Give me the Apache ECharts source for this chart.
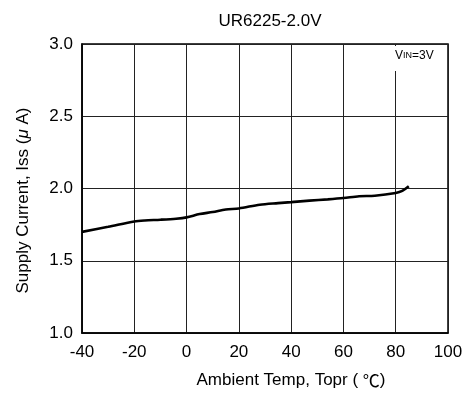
<!DOCTYPE html>
<html><head><meta charset="utf-8">
<script src="https://cdn.jsdelivr.net/npm/echarts@6/dist/echarts.min.js"></script>
<style>html,body{margin:0;padding:0;background:#fff}#c{width:467px;height:396px}</style>
</head><body><div id="c"></div>
<script>
var titleText = 'UR6225-2.0V';
var xName = 'Ambient Temp, Topr ( {c|\u2103})';
var yName = 'Supply Current, Iss ({m|\u03BC} A)';
var temps = [-40, -30, -20, -16, -10, -4, 0, 5, 10, 15, 20, 28, 35, 40, 47, 54, 60, 66, 72, 80, 82.5, 85];
var iss = [1.70, 1.735, 1.772, 1.779, 1.784, 1.791, 1.800, 1.823, 1.837, 1.855, 1.862, 1.888, 1.899, 1.906, 1.916, 1.925, 1.934, 1.946, 1.950, 1.969, 1.983, 2.015];
var xTicks = {min: -40, max: 100, interval: 20};
var yTicks = {min: 1.0, max: 3.0, interval: 0.5};

var FONT = 'Liberation Sans, Arial, sans-serif';
var CJK = 'Noto Sans CJK SC';
var FS = 17;
var chart = echarts.init(document.getElementById('c'), null, {renderer: 'canvas'});
var pts = temps.map(function (t, i) { return [t, iss[i]]; });
chart.setOption({
  animation: false,
  backgroundColor: '#fff',
  title: {text: titleText, left: 265, top: 8, textAlign: 'center',
    textStyle: {fontFamily: FONT, fontSize: FS, fontWeight: 'normal', color: '#000'}},
  grid: {left: 82, right: 19, top: 44, bottom: 63, show: true, borderColor: '#000', borderWidth: 1.5, backgroundColor: 'transparent'},
  xAxis: {type: 'value', min: xTicks.min, max: xTicks.max, interval: xTicks.interval,
    name: xName, nameLocation: 'middle', nameGap: 39,
    nameTextStyle: {fontFamily: FONT, fontSize: FS, color: '#000', padding: [0, 0, 0, 52],
      rich: {c: {fontFamily: CJK, fontSize: FS, color: '#000'}}},
    axisLine: {onZero: false, lineStyle: {color: '#000', width: 1.5}}, axisTick: {show: false},
    axisLabel: {fontFamily: FONT, fontSize: FS, color: '#000', margin: 11},
    splitLine: {show: true, lineStyle: {color: '#222', width: 1}}},
  yAxis: {type: 'value', min: yTicks.min, max: yTicks.max, interval: yTicks.interval,
    name: yName, nameLocation: 'middle', nameGap: 50,
    nameTextStyle: {fontFamily: FONT, fontSize: FS, color: '#000', padding: [0, 24, 0, 0],
      rich: {m: {fontFamily: FONT, fontSize: FS, fontStyle: 'italic', color: '#000'}}},
    axisLine: {onZero: false, lineStyle: {color: '#000', width: 1.5}}, axisTick: {show: false},
    axisLabel: {fontFamily: FONT, fontSize: FS, color: '#000', margin: 9,
      formatter: function (v) { return v.toFixed(1); }},
    splitLine: {show: true, lineStyle: {color: '#222', width: 1}}},
  graphic: [{
    type: 'text', left: 391, top: 46, z: 100,
    style: {
      text: 'V{s|IN}=3V', fontFamily: FONT, fontSize: 12, fill: '#000',
      backgroundColor: '#fff', padding: [4, 4, 9, 4],
      rich: {s: {fontFamily: FONT, fontSize: 9, fill: '#000'}}
    }
  }],
  series: [{
    type: 'line', data: pts, symbol: 'none', smooth: 0.3,
    lineStyle: {color: '#000', width: 2.6}, z: 5
  }]
});
</script></body></html>
